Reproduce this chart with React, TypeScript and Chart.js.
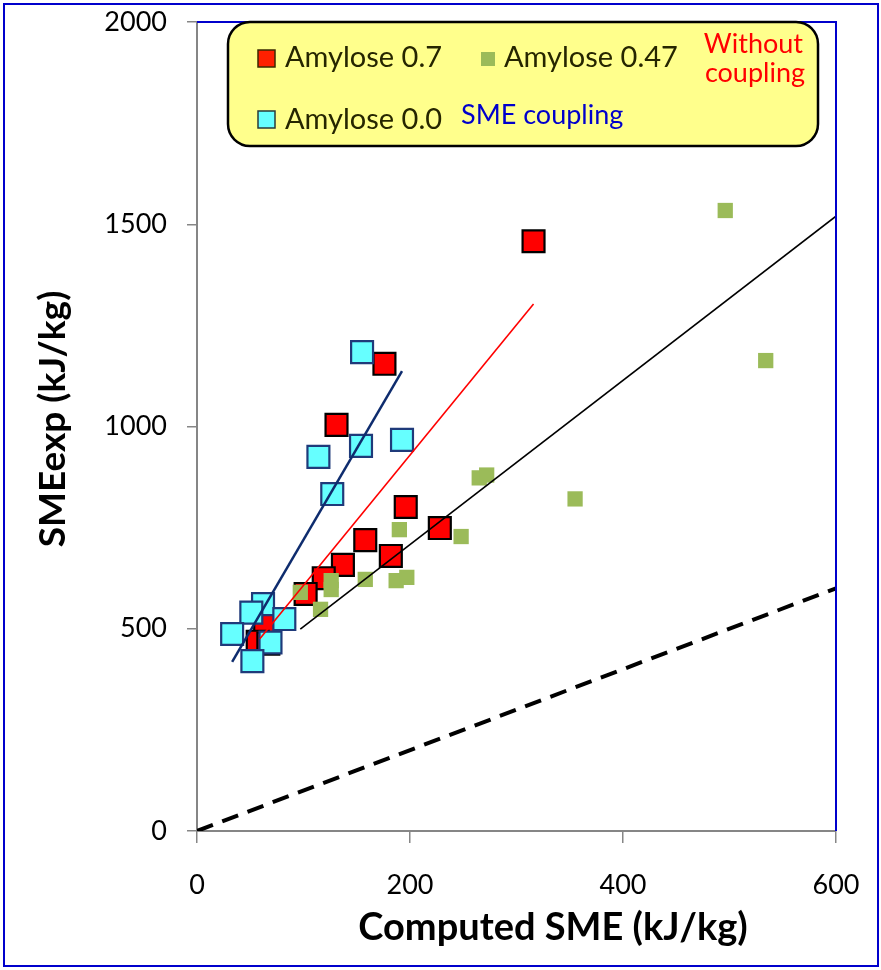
import React, { useEffect, useRef } from "react";
import { Chart, registerables } from "chart.js";

Chart.register(...registerables);

// ---- Data ----
const amylose07X = [316, 176, 131, 196, 228, 182, 158, 137, 119, 102, 64, 57, 67];
const amylose07Y = [1458, 1155, 1004, 801, 749, 680, 719, 658, 625, 586, 507, 468, 463];

const amylose047X = [496, 534, 355, 265, 272, 190, 248, 158, 187, 197, 126, 126, 97, 116];
const amylose047Y = [1534, 1163, 821, 873, 880, 745, 728, 622, 619, 627, 619, 597, 590, 548];

const amylose00X = [155, 192.5, 154, 114, 127, 62, 51, 82, 33, 69, 52];
const amylose00Y = [1184, 967, 952, 925, 833, 561, 540, 524, 487, 466, 420];

// fitted lines
const smeCouplingX = [33, 192.5];
const smeCouplingY = [418, 1137];
const withoutCouplingX = [59, 316];
const withoutCouplingY = [475, 1303];
const amylose047LineX = [97, 600];
const amylose047LineY = [499, 1520];
const identityX = [0, 600];
const identityY = [0, 600];

const xTicks = [0, 200, 400, 600];
const yTicks = [0, 500, 1000, 1500, 2000];

const xTitle = "Computed SME (kJ/kg)";
const yTitle = "SMEexp (kJ/kg)";
const legendLabels = ["Amylose 0.7", "Amylose 0.47", "Amylose 0.0"];
const noteWithout = ["Without", "coupling"];
const noteSme = "SME coupling";

const FONT = "Lato, 'Open Sans', sans-serif";

const pts = (xs: number[], ys: number[]) => xs.map((x, i) => ({ x, y: ys[i] }));

const overlayPlugin = {
  id: "overlay",
  beforeDraw(chart: any) {
    const ctx = chart.ctx;
    ctx.save();
    ctx.fillStyle = "#ffffff";
    ctx.fillRect(0, 0, chart.width, chart.height);
    ctx.restore();
  },
  afterDraw(chart: any) {
    const ctx: CanvasRenderingContext2D = chart.ctx;
    const { left, right, top, bottom } = chart.chartArea;
    ctx.save();
    // plot area top/right blue border
    ctx.strokeStyle = "#0000CC";
    ctx.lineWidth = 2;
    ctx.beginPath();
    ctx.moveTo(left, top);
    ctx.lineTo(right, top);
    ctx.lineTo(right, bottom);
    ctx.stroke();
    // outer border
    ctx.strokeRect(4, 4, 874, 962);

    // legend box
    const bx = 228, by = 22, bw = 590, bh = 124, r = 22;
    ctx.beginPath();
    ctx.moveTo(bx + r, by);
    ctx.lineTo(bx + bw - r, by);
    ctx.arcTo(bx + bw, by, bx + bw, by + r, r);
    ctx.lineTo(bx + bw, by + bh - r);
    ctx.arcTo(bx + bw, by + bh, bx + bw - r, by + bh, r);
    ctx.lineTo(bx + r, by + bh);
    ctx.arcTo(bx, by + bh, bx, by + bh - r, r);
    ctx.lineTo(bx, by + r);
    ctx.arcTo(bx, by, bx + r, by, r);
    ctx.closePath();
    ctx.fillStyle = "#FFFF8C";
    ctx.fill();
    ctx.lineWidth = 2.5;
    ctx.strokeStyle = "#000000";
    ctx.stroke();

    // legend markers
    ctx.lineWidth = 1.5;
    ctx.fillStyle = "#FF2000";
    ctx.fillRect(258, 50, 17, 17);
    ctx.strokeStyle = "#3a2a00";
    ctx.strokeRect(258, 50, 17, 17);
    ctx.fillStyle = "#9BBB59";
    ctx.fillRect(481, 52, 14, 14);
    ctx.fillStyle = "#66FFFF";
    ctx.fillRect(258, 111, 17, 17);
    ctx.strokeStyle = "#2a3a3a";
    ctx.strokeRect(258, 111, 17, 17);

    ctx.textBaseline = "alphabetic";
    ctx.font = `29px ${FONT}`;
    ctx.fillStyle = "#262600";
    ctx.textAlign = "left";
    ctx.fillText(legendLabels[0], 285, 67);
    ctx.fillText(legendLabels[1], 504, 67);
    ctx.fillText(legendLabels[2], 285, 129);

    ctx.fillStyle = "#FF0000";
    ctx.textAlign = "right";
    ctx.font = `27px ${FONT}`;
    ctx.fillText(noteWithout[0], 803, 53);
    ctx.fillText(noteWithout[1], 805, 82);

    ctx.fillStyle = "#0000CC";
    ctx.textAlign = "left";
    ctx.fillText(noteSme, 461, 124);

    // axis titles
    ctx.fillStyle = "#000000";
    ctx.font = `bold 38px ${FONT}`;
    ctx.textAlign = "center";
    ctx.textBaseline = "middle";
    ctx.fillText(xTitle, 553, 928);
    ctx.font = `bold 37px ${FONT}`;
    ctx.save();
    ctx.translate(53, 419);
    ctx.rotate(-Math.PI / 2);
    ctx.fillText(yTitle, 0, 0);
    ctx.restore();

    ctx.restore();
  },
};

export default function App() {
  const ref = useRef<HTMLCanvasElement | null>(null);

  useEffect(() => {
    if (!ref.current) return;
    const lineDs = (xs: number[], ys: number[], color: string, width: number, dash: number[] = []) => ({
      type: "scatter" as const,
      data: pts(xs, ys),
      showLine: true,
      borderColor: color,
      borderWidth: width,
      borderDash: dash,
      pointRadius: 0,
      fill: false,
      order: 0,
    });
    const chart = new Chart(ref.current, {
      type: "scatter",
      data: {
        datasets: [
          lineDs(smeCouplingX, smeCouplingY, "#0E2C6E", 2.5),
          lineDs(withoutCouplingX, withoutCouplingY, "#FF0000", 1.6),
          lineDs(amylose047LineX, amylose047LineY, "#000000", 1.6),
          lineDs(identityX, identityY, "#000000", 4, [17, 10]),
          {
            label: legendLabels[2],
            data: pts(amylose00X, amylose00Y),
            pointStyle: "rect",
            pointRadius: 15.5,
            backgroundColor: "#66FFFF",
            borderColor: "#1F3A7A",
            borderWidth: 2.2,
            order: 1,
          },
          {
            label: legendLabels[1],
            data: pts(amylose047X, amylose047Y),
            pointStyle: "rect",
            pointRadius: 10.8,
            backgroundColor: "#9BBB59",
            borderColor: "#9BBB59",
            borderWidth: 0,
            order: 2,
          },
          {
            label: legendLabels[0],
            data: pts(amylose07X, amylose07Y),
            pointStyle: "rect",
            pointRadius: 15.5,
            backgroundColor: "#FF0000",
            borderColor: "#000000",
            borderWidth: 2.2,
            order: 3,
          },
        ],
      },
      options: {
        responsive: false,
        animation: false,
        devicePixelRatio: 1,
        events: [],
        layout: { padding: { left: 0, top: 22, right: 45, bottom: 0 } },
        plugins: { legend: { display: false }, tooltip: { enabled: false } },
        scales: {
          x: {
            type: "linear",
            min: 0,
            max: 600,
            afterBuildTicks: (s: any) => {
              s.ticks = xTicks.map((v) => ({ value: v }));
            },
            afterFit: (s: any) => {
              s.height = 139;
              s.paddingLeft = 0;
              s.paddingRight = 0;
            },
            ticks: {
              font: { family: FONT, size: 27 },
              color: "#000",
              padding: 26,
              maxRotation: 0,
              callback: (v: any) => String(v),
            },
            grid: { drawOnChartArea: false, drawTicks: true, tickLength: 12, color: "#868686", lineWidth: 1.5 },
            border: { color: "#868686", width: 2 },
          },
          y: {
            type: "linear",
            min: 0,
            max: 2000,
            afterBuildTicks: (s: any) => {
              s.ticks = yTicks.map((v) => ({ value: v }));
            },
            afterFit: (s: any) => {
              s.width = 197;
              s.paddingTop = 0;
              s.paddingBottom = 0;
            },
            ticks: {
              font: { family: FONT, size: 27 },
              color: "#000",
              padding: 20,
              callback: (v: any) => String(v),
            },
            grid: { drawOnChartArea: false, drawTicks: true, tickLength: 10, color: "#868686", lineWidth: 1.5 },
            border: { color: "#868686", width: 2 },
          },
        },
      },
      plugins: [overlayPlugin],
    } as any);
    return () => chart.destroy();
  }, []);

  return (
    <div style={{ position: "absolute", left: 0, top: 0, width: 881, height: 970, background: "#fff" }}>
      <canvas ref={ref} width={881} height={970} style={{ display: "block", width: 881, height: 970 }} />
    </div>
  );
}
